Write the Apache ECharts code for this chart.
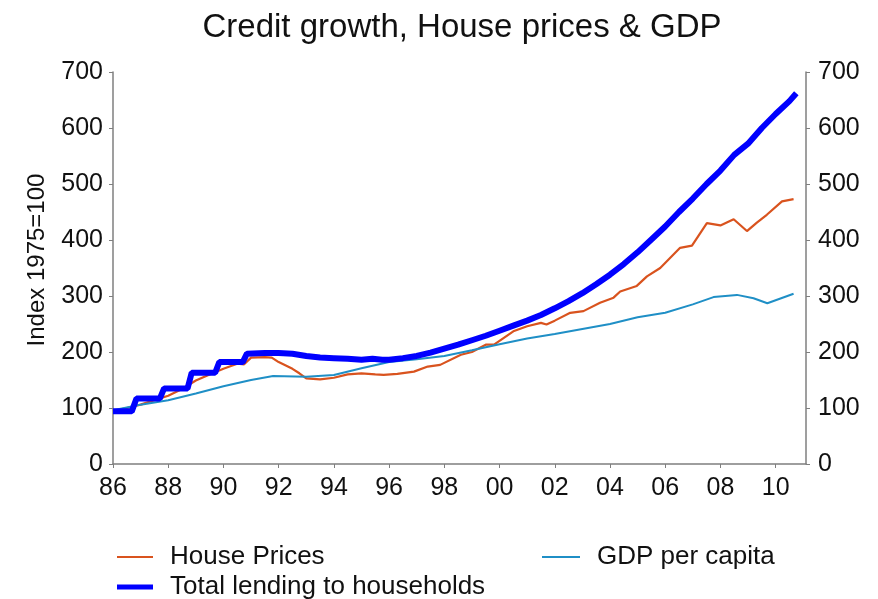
<!DOCTYPE html>
<html>
<head>
<meta charset="utf-8">
<script src="https://cdn.jsdelivr.net/npm/echarts@6/dist/echarts.min.js"></script>
<style>
html,body{margin:0;padding:0;background:#fff;}
#main{width:878px;height:599px;}
</style>
</head>
<body>
<div id="main"></div>
<script>
// ---- data ----
const xTickYears = [1986,1988,1990,1992,1994,1996,1998,2000,2002,2004,2006,2008,2010];
const yTicks = [0,100,200,300,400,500,600,700];

const houseYears = [1986.0,1986.5,1987.0,1987.5,1988.0,1988.5,1989.0,1989.5,1990.0,1990.5,1990.75,1991.0,1991.5,1991.75,1992.0,1992.5,1992.75,1993.0,1993.5,1994.0,1994.5,1995.0,1995.5,1995.8,1996.3,1996.9,1997.4,1997.85,1998.6,1999.0,1999.5,1999.8,2000.5,2001.0,2001.5,2001.7,2002.0,2002.56,2003.04,2003.64,2004.13,2004.37,2004.97,2005.34,2005.82,2006.54,2006.97,2007.51,2008.0,2008.48,2008.96,2009.32,2009.68,2010.23,2010.65];
const houseValues = [95,100,106,114,122,134,149,160,170,179,178,190,191,190,182,170,162,153,151,154,160,162,160,159,161,165,174,177,195,200,213,213,237,246,252,249,256,270,273,288,297,308,318,335,350,386,390,430,426,437,416,431,445,469,473];

const lendingYears = [1986.0,1986.68,1986.85,1987.7,1987.85,1988.7,1988.85,1989.7,1989.85,1990.7,1990.85,1991.5,1992.0,1992.5,1993.0,1993.5,1994.0,1994.5,1995.0,1995.4,1995.75,1996.0,1996.5,1997.0,1997.5,1998.0,1998.5,1999.0,1999.5,2000.0,2000.5,2001.0,2001.5,2002.0,2002.5,2003.0,2003.5,2004.0,2004.5,2005.0,2005.5,2006.0,2006.5,2007.0,2007.5,2008.0,2008.5,2009.0,2009.5,2010.0,2010.5,2010.75];
const lendingValues = [94,94,117,117,135,135,163,163,182,182,197,198,198,197,193,190,189,188,186,188,186,186,189,193,199,206,213,221,229,238,247,256,266,278,291,305,321,338,357,378,401,424,450,474,500,524,552,572,600,625,648,662];

const gdpYears = [1986.0,1987.0,1988.0,1989.0,1990.0,1991.0,1991.8,1993.0,1994.0,1995.0,1996.0,1997.0,1998.0,1999.0,2000.0,2001.0,2002.0,2003.0,2004.0,2005.0,2006.0,2007.0,2007.75,2008.6,2009.2,2009.7,2010.65];
const gdpValues = [96,106,114,126,139,150,157,156,159,171,182,187,193,203,214,224,232,241,250,262,270,285,298,302,296,287,304];

const pair = (xs, ys) => xs.map((x, i) => [x, ys[i]]);

const FONT = "'Liberation Sans', Arial, sans-serif";
const axisCol = '#7f7f7f';
const cHouse = '#d9531e', cGdp = '#1f8fc6', cLend = '#0000ff';

const chart = echarts.init(document.getElementById('main'));
const yAxisBase = {
  type: 'value', min: 0, max: 700, interval: 100,
  axisLine: {show: true, lineStyle: {color: axisCol, width: 1.5}},
  axisTick: {show: true, length: 4, lineStyle: {color: axisCol}},
  splitLine: {show: false},
  axisLabel: {color: '#111', fontSize: 25, fontFamily: FONT, margin: 10}
};
const legendText = {fontSize: 26, color: '#111', fontFamily: FONT, padding: [0,0,0,12]};
chart.setOption({
  backgroundColor: '#fff',
  animation: false,
  title: {
    text: 'Credit growth, House prices & GDP',
    left: 457, top: 6, textAlign: 'center',
    textStyle: {fontSize: 33, fontWeight: 'normal', color: '#111', fontFamily: FONT}
  },
  grid: {left: 113, right: 72, top: 72, bottom: 135, containLabel: false},
  legend: [
    {left: 117, top: 544, padding: 0, itemWidth: 36, itemHeight: 2, icon: 'rect',
     data: [{name: 'House Prices', itemStyle: {color: cHouse}}], textStyle: legendText},
    {left: 117, top: 574, padding: 0, itemWidth: 36, itemHeight: 5, icon: 'rect',
     data: [{name: 'Total lending to households', itemStyle: {color: cLend}}], textStyle: legendText},
    {left: 542, top: 544, padding: 0, itemWidth: 38, itemHeight: 2, icon: 'rect',
     data: [{name: 'GDP per capita', itemStyle: {color: cGdp}}], textStyle: legendText}
  ],
  xAxis: {
    type: 'value', min: 1986, max: 2011.1, interval: 2,
    axisLine: {show: true, onZero: false, lineStyle: {color: axisCol, width: 1.5}},
    axisTick: {show: true, length: 4, customValues: xTickYears, lineStyle: {color: axisCol}},
    splitLine: {show: false},
    axisLabel: {
      customValues: xTickYears,
      color: '#111', fontSize: 25, fontFamily: FONT, margin: 12,
      formatter: v => String(Math.round(v) % 100).padStart(2, '0')
    }
  },
  yAxis: [
    Object.assign({}, yAxisBase, {
      position: 'left', name: 'Index 1975=100', nameLocation: 'middle', nameRotate: 90, nameGap: 64,
      nameTextStyle: {fontSize: 24, color: '#111', fontFamily: FONT, padding: [0,0,0,16]}
    }),
    Object.assign({}, yAxisBase, {position: 'right', axisLabel: Object.assign({}, yAxisBase.axisLabel, {margin: 12})})
  ],
  series: [
    {name: 'House Prices', type: 'line', data: pair(houseYears, houseValues), symbol: 'none',
     lineStyle: {color: cHouse, width: 2.2}, itemStyle: {color: cHouse}, z: 2},
    {name: 'GDP per capita', type: 'line', data: pair(gdpYears, gdpValues), symbol: 'none',
     lineStyle: {color: cGdp, width: 2}, itemStyle: {color: cGdp}, z: 2},
    {name: 'Total lending to households', type: 'line', data: pair(lendingYears, lendingValues), symbol: 'none',
     lineStyle: {color: cLend, width: 6}, itemStyle: {color: cLend}, z: 3}
  ]
});
</script>
</body>
</html>
